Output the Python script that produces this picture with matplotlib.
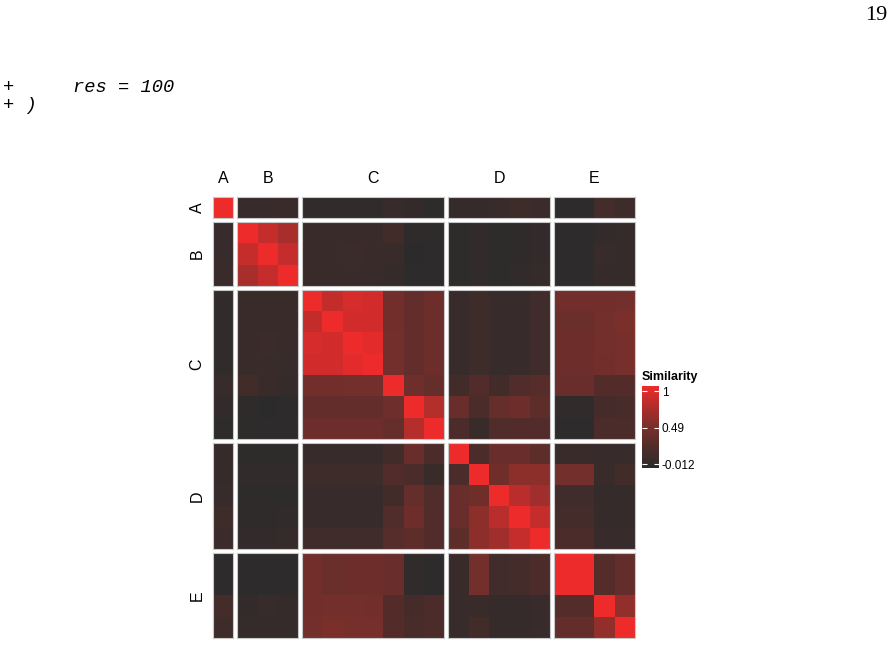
import numpy as np
import matplotlib.pyplot as plt
from matplotlib.colors import LinearSegmentedColormap, Normalize
from matplotlib.cm import ScalarMappable

# groups of the similarity matrix (facets)
groups = ['A', 'B', 'C', 'D', 'E']
group_sizes = [1, 3, 7, 5, 4]

# symmetric similarity matrix, 20 x 20
sim = np.array([
    # A     B1    B2    B3    C1    C2    C3    C4    C5    C6    C7    D1    D2    D3    D4    D5    E1    E2    E3    E4
    [1.00, 0.08, 0.08, 0.10, 0.04, 0.04, 0.04, 0.04, 0.08, 0.05, 0.01, 0.07, 0.07, 0.08, 0.13, 0.11, 0.00, 0.00, 0.16, 0.12],
    [0.08, 1.00, 0.83, 0.71, 0.10, 0.10, 0.10, 0.10, 0.15, 0.03, 0.01, 0.01, 0.04, 0.01, 0.02, 0.05, 0.00, 0.00, 0.05, 0.06],
    [0.08, 0.83, 1.00, 0.83, 0.10, 0.10, 0.11, 0.10, 0.10, -0.012, 0.00, 0.01, 0.04, 0.01, 0.02, 0.05, 0.00, 0.00, 0.08, 0.06],
    [0.10, 0.71, 0.83, 1.00, 0.10, 0.10, 0.09, 0.08, 0.07, 0.00, 0.00, 0.01, 0.04, 0.01, 0.04, 0.07, 0.00, 0.00, 0.07, 0.07],
    [0.04, 0.10, 0.10, 0.10, 1.00, 0.82, 0.90, 0.88, 0.45, 0.36, 0.42, 0.08, 0.12, 0.08, 0.08, 0.14, 0.45, 0.45, 0.45, 0.46],
    [0.04, 0.10, 0.10, 0.10, 0.82, 1.00, 0.88, 0.88, 0.45, 0.36, 0.42, 0.08, 0.12, 0.08, 0.08, 0.14, 0.41, 0.41, 0.46, 0.50],
    [0.04, 0.10, 0.11, 0.09, 0.90, 0.88, 1.00, 0.96, 0.46, 0.36, 0.42, 0.08, 0.12, 0.08, 0.08, 0.14, 0.42, 0.42, 0.46, 0.48],
    [0.04, 0.10, 0.10, 0.08, 0.88, 0.88, 0.96, 1.00, 0.46, 0.36, 0.42, 0.08, 0.12, 0.08, 0.08, 0.14, 0.42, 0.42, 0.45, 0.48],
    [0.08, 0.15, 0.10, 0.07, 0.45, 0.45, 0.46, 0.46, 1.00, 0.43, 0.38, 0.15, 0.26, 0.15, 0.25, 0.29, 0.40, 0.40, 0.27, 0.27],
    [0.05, 0.03, -0.012, 0.00, 0.36, 0.36, 0.36, 0.36, 0.43, 1.00, 0.76, 0.40, 0.23, 0.38, 0.42, 0.33, 0.04, 0.04, 0.18, 0.20],
    [0.01, 0.01, 0.00, 0.00, 0.42, 0.42, 0.42, 0.42, 0.38, 0.76, 1.00, 0.22, 0.10, 0.25, 0.26, 0.26, 0.00, 0.00, 0.22, 0.22],
    [0.07, 0.01, 0.01, 0.01, 0.08, 0.08, 0.08, 0.08, 0.15, 0.40, 0.22, 1.00, 0.22, 0.40, 0.40, 0.33, 0.10, 0.10, 0.08, 0.08],
    [0.07, 0.04, 0.04, 0.04, 0.12, 0.12, 0.12, 0.12, 0.26, 0.23, 0.10, 0.22, 1.00, 0.44, 0.58, 0.58, 0.46, 0.46, 0.10, 0.15],
    [0.08, 0.01, 0.01, 0.01, 0.08, 0.08, 0.08, 0.08, 0.15, 0.38, 0.25, 0.40, 0.44, 1.00, 0.78, 0.67, 0.14, 0.14, 0.07, 0.06],
    [0.13, 0.02, 0.02, 0.04, 0.08, 0.08, 0.08, 0.08, 0.25, 0.42, 0.26, 0.40, 0.58, 0.78, 1.00, 0.83, 0.17, 0.17, 0.07, 0.06],
    [0.11, 0.05, 0.05, 0.07, 0.14, 0.14, 0.14, 0.14, 0.29, 0.33, 0.26, 0.33, 0.58, 0.67, 0.83, 1.00, 0.22, 0.22, 0.09, 0.08],
    [0.00, 0.00, 0.00, 0.00, 0.45, 0.41, 0.42, 0.42, 0.40, 0.04, 0.00, 0.10, 0.46, 0.14, 0.17, 0.22, 1.00, 1.00, 0.28, 0.36],
    [0.00, 0.00, 0.00, 0.00, 0.45, 0.41, 0.42, 0.42, 0.40, 0.04, 0.00, 0.10, 0.46, 0.14, 0.17, 0.22, 1.00, 1.00, 0.28, 0.36],
    [0.16, 0.05, 0.08, 0.07, 0.45, 0.46, 0.46, 0.45, 0.27, 0.18, 0.22, 0.08, 0.10, 0.07, 0.07, 0.09, 0.28, 0.28, 1.00, 0.61],
    [0.12, 0.06, 0.06, 0.07, 0.46, 0.50, 0.48, 0.48, 0.27, 0.20, 0.22, 0.08, 0.15, 0.06, 0.06, 0.08, 0.36, 0.36, 0.61, 1.00],
])

legend_ticks = [-0.012, 0.49, 1]
legend_labels = ['-0.012', '0.49', '1']

# dark grey -> red, darker in the middle like a Lab gradient
cmap = LinearSegmentedColormap.from_list(
    'sim', ['#2b2b2b', '#4e2c2a', '#792f2b', '#b02e2c', '#ee2b2b'])
vmin, vmax = -0.012, 1.0

W, H = 893, 646
fig = plt.figure(figsize=(W / 100, H / 100), dpi=100)

# page text around the figure
fig.text(887 / W, 1 - 15 / H, '19', family='Liberation Serif', fontsize=16,
         ha='right', va='center')
fig.text(3 / W, 1 - 87 / H, '+', family='Liberation Mono', style='italic',
         fontsize=13.5, ha='left', va='center')
fig.text(73 / W, 1 - 87 / H, 'res = 100', family='Liberation Mono', style='italic',
         fontsize=13.5, ha='left', va='center')
fig.text(3 / W, 1 - 105 / H, '+ )', family='Liberation Mono', style='italic',
         fontsize=13.5, ha='left', va='center')

gs = fig.add_gridspec(5, 5, width_ratios=group_sizes, height_ratios=group_sizes,
                      left=213 / W, right=635 / W, top=1 - 197 / H, bottom=1 - 638 / H,
                      wspace=0.049, hspace=0.047)

edges = np.concatenate([[0], np.cumsum(group_sizes)])
for i in range(5):
    for j in range(5):
        ax = fig.add_subplot(gs[i, j])
        block = sim[edges[i]:edges[i + 1], edges[j]:edges[j + 1]]
        ax.pcolormesh(block, cmap=cmap, vmin=vmin, vmax=vmax)
        ax.invert_yaxis()
        ax.set_xticks([])
        ax.set_yticks([])
        for s in ax.spines.values():
            s.set_color('#c8c8c8')
            s.set_linewidth(0.8)
        if i == 0:
            ax.annotate(groups[j], xy=(0.5, 1), xycoords='axes fraction',
                        xytext=(0, 13), textcoords='offset points',
                        ha='center', va='center', fontsize=11.5,
                        family='Liberation Sans')
        if j == 0:
            ax.annotate(groups[i], xy=(0, 0.5), xycoords='axes fraction',
                        xytext=(-11.5, 0), textcoords='offset points',
                        ha='center', va='center', fontsize=11.5, rotation=90,
                        family='Liberation Sans')

# legend bar, a bit longer than the data range like ggplot's
cax = fig.add_axes([642 / W, 1 - 468 / H, 17 / W, 82 / H])
sm = ScalarMappable(norm=Normalize(vmin - 0.055, vmax + 0.07), cmap=cmap)
cb = fig.colorbar(sm, cax=cax, ticks=legend_ticks)
cb.ax.set_yticklabels(legend_labels)
cb.outline.set_visible(False)
cax.tick_params(direction='in', length=3.5, width=0.8, color='white',
                left=True, right=True, labelsize=8.5, pad=2)
for lab in cax.get_yticklabels():
    lab.set_family('Liberation Sans')
cax.set_title('Similarity', loc='left', fontsize=9, fontweight='bold',
              family='Liberation Sans', pad=4)

fig.savefig('out.png', dpi=100)
